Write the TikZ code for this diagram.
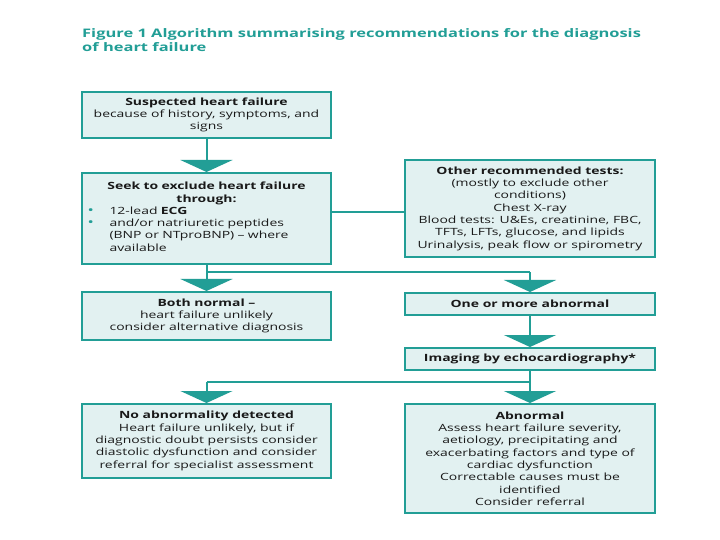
\documentclass[tikz,border=0pt]{standalone}
\usepackage{fontspec}
\setmainfont[FakeStretch=1.4]{Open Sans}
\usetikzlibrary{arrows.meta,calc}
\definecolor{teal1}{RGB}{34,158,150}
\definecolor{boxfill}{RGB}{226,241,241}
\definecolor{txt}{RGB}{25,25,25}
\tikzset{
  box/.style={draw=teal1, line width=2bp, fill=boxfill, inner sep=2bp,
    font=\fontsize{10pt}{12.4pt}\selectfont, text=txt, align=center},
  conn/.style={draw=teal1, line width=2bp},
  arr/.style={conn, -{Triangle[width=52bp,length=12bp]}}
}
\begin{document}
\begin{tikzpicture}[x=1bp,y=-1bp]
\useasboundingbox (0,0) rectangle (720,540);
\fill[white] (0,0) rectangle (720,540);
% title
\node[anchor=north west, inner sep=0, text=teal1, align=left,
  font=\fontsize{11.8pt}{14pt}\selectfont\bfseries] (title) at (82,28)
  {Figure 1 Algorithm summarising recommendations for the diagnosis\\of heart failure};
% boxes
\node[box, minimum width=249bp, minimum height=46bp] (susp) at (206.5,115)
  {\textbf{Suspected heart failure}\\because of history, symptoms, and\\signs};
\node[box, minimum width=249bp, minimum height=91bp, text width=238bp, align=left] (seek) at (206.5,218.5)
  {{\centering\textbf{Seek to exclude heart failure}\\\textbf{through:}\par}%
   \begin{tabular}{@{}p{22bp}@{}p{182bp}@{}}
   \textcolor{teal1}{\large\textbullet} & 12-lead \textbf{ECG}\\
   \textcolor{teal1}{\large\textbullet} & and/or natriuretic peptides (BNP or NTproBNP) -- where available
   \end{tabular}};
\node[box, minimum width=250bp, minimum height=97bp] (other) at (530,208.5)
  {\textbf{Other recommended tests:}\\(mostly to exclude other\\conditions)\\Chest X-ray\\Blood tests: U\&Es, creatinine, FBC,\\TFTs, LFTs, glucose, and lipids\\Urinalysis, peak flow or spirometry};
\node[box, minimum width=249bp, minimum height=48bp] (both) at (206.5,316)
  {\textbf{Both normal --}\\heart failure unlikely\\consider alternative diagnosis};
\node[box, minimum width=250bp, minimum height=22bp] (one) at (530,304)
  {\textbf{One or more abnormal}};
\node[box, minimum width=250bp, minimum height=22bp] (img) at (530,359)
  {\textbf{Imaging by echocardiography*}};
\node[box, minimum width=249bp, minimum height=74bp] (noab) at (206.5,441)
  {\textbf{No abnormality detected}\\Heart failure unlikely, but if\\diagnostic doubt persists consider\\diastolic dysfunction and consider\\referral for specialist assessment};
\node[box, minimum width=250bp, minimum height=109bp] (abn) at (530,458.5)
  {\textbf{Abnormal}\\Assess heart failure severity,\\aetiology, precipitating and\\exacerbating factors and type of\\cardiac dysfunction\\Correctable causes must be\\identified\\Consider referral};
% connectors
\draw[arr] (susp.south) -- (seek.north);
\draw[conn] ([yshift=6.5bp]seek.east) -- ([yshift=6.5bp]seek.east -| other.west);
\coordinate (s1) at (206.5,272);
\coordinate (s2) at (530,382);
\draw[conn] (seek.south) -- (s1) -- (s1 -| one.north);
\draw[arr] (s1) -- (both.north);
\draw[arr] (s1 -| one.north) -- (one.north);
\draw[arr] (one.south) -- (img.north);
\draw[conn] (img.south) -- (s2) -- (s2 -| noab.north);
\draw[arr] (s2 -| noab.north) -- (noab.north);
\draw[arr] (s2) -- (abn.north);
\end{tikzpicture}
\end{document}
